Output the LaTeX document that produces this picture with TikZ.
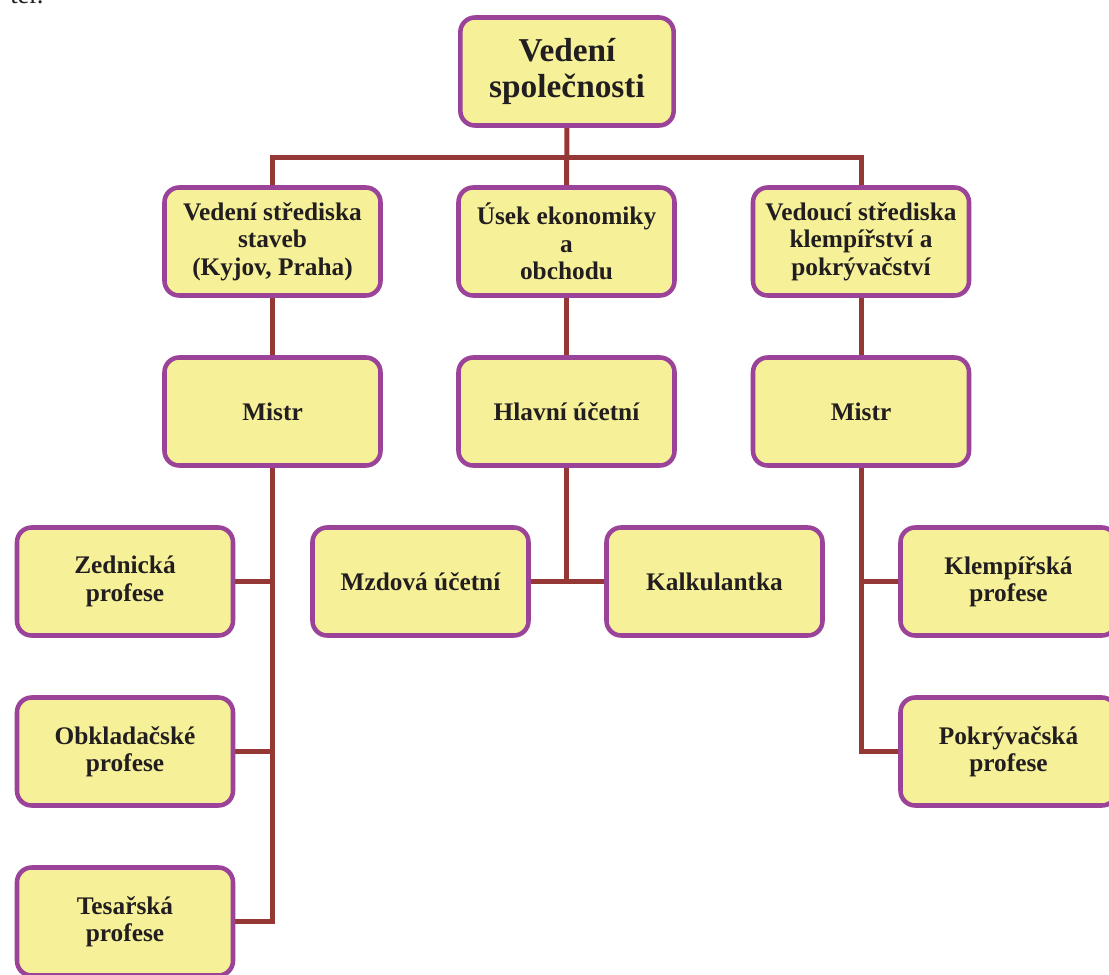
\documentclass[tikz,border=0pt]{standalone}
\usepackage{fontspec}
\setmainfont{Liberation Serif}
\usetikzlibrary{positioning,backgrounds}
\definecolor{boxfill}{RGB}{246,241,153}
\definecolor{boxline}{RGB}{155,66,153}
\definecolor{linkcolor}{RGB}{149,55,53}
\definecolor{textcolor}{RGB}{34,30,31}

\begin{document}
\begin{tikzpicture}[x=0.75pt,y=-0.75pt]

\tikzstyle{unit}=[rectangle,rounded corners=11pt,draw=boxline,fill=boxfill,line width=3.4pt,outer sep=0pt,minimum width=162pt,minimum height=81pt,align=center,text=textcolor,font=\bfseries\fontsize{19}{20.6}\selectfont]
\tikzstyle{head unit}=[unit,minimum width=160pt,font=\bfseries\fontsize{25}{27}\selectfont]
\tikzstyle{link}=[draw=linkcolor,line width=3.75pt]

\useasboundingbox (0,0) rectangle (1109,974);
\clip (0,0) rectangle (1109,974);

% cut-off text above the chart
\node[anchor=base west,inner sep=0pt,text=textcolor,font=\fontsize{20}{24}\selectfont] (frag) at (10,4) {ter.};

\node[head unit] (top) at (567,71.5) {Vedení\\společnosti};

\node[unit] (stavby) at (272.5,241.5) {Vedení střediska\\staveb\\(Kyjov, Praha)};
\node[unit] (ekon) at (566.5,241.5) {Úsek ekonomiky\\a\\obchodu};
\node[unit] (klemp) at (861,241.5) {Vedoucí střediska\\klempířství a\\pokrývačství};

\node[unit,below=46.5pt of stavby] (mistrA) {Mistr};
\node[unit,below=46.5pt of ekon] (hlavni) {Hlavní účetní};
\node[unit,below=46.5pt of klemp] (mistrB) {Mistr};

\node[unit] (zed) at (125,581.5) {Zednická\\profese};
\node[unit,below=46.5pt of zed] (obk) {Obkladačské\\profese};
\node[unit,below=46.5pt of obk] (tes) {Tesařská\\profese};

\node[unit] (mzd) at (420.5,581.5) {Mzdová účetní};
\node[unit] (kalk) at (714.5,581.5) {Kalkulantka};

\node[unit] (klempir) at (1008.5,581.5) {Klempířská\\profese};
\node[unit,below=46.5pt of klempir] (pokr) {Pokrývačská\\profese};

\coordinate (bus) at (566.5,157.5);

\begin{scope}[on background layer]
\draw[link] (top) -- (ekon);
\draw[link] (bus) -| (stavby);
\draw[link] (bus) -| (klemp);

\draw[link] (stavby) -- (mistrA);
\draw[link] (ekon) -- (hlavni);
\draw[link] (klemp) -- (mistrB);

\draw[link] (mistrA) |- (tes);
\draw[link] (zed) -- (zed -| mistrA);
\draw[link] (obk) -- (obk -| mistrA);

\draw[link] (hlavni) |- (mzd);
\draw[link] (hlavni) |- (kalk);

\draw[link] (mistrB) |- (pokr);
\draw[link] (klempir) -- (klempir -| mistrB);
\end{scope}

\end{tikzpicture}
\end{document}
